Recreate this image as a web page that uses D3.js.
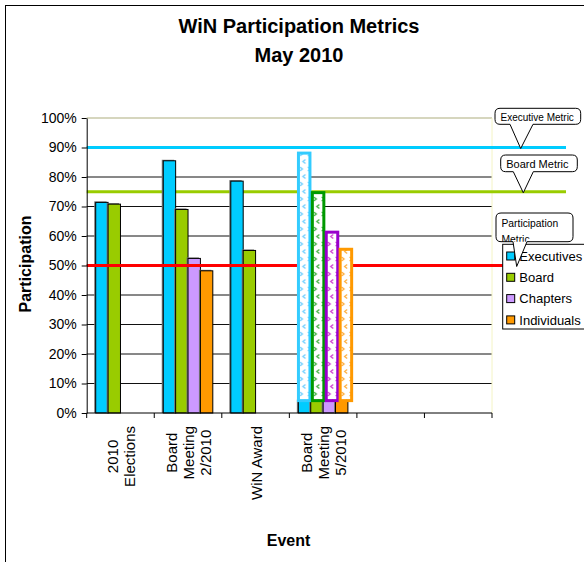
<!DOCTYPE html>
<html>
<head>
<meta charset="utf-8">
<script src="https://cdn.jsdelivr.net/npm/d3@7"></script>
<style>
body { margin: 0; background: #fff; }
svg { display: block; font-family: "Liberation Sans", Arial, sans-serif; }
</style>
</head>
<body>
<svg id="chart" width="584" height="562"></svg>
<script>
// data
const events = [["2010", "Elections"], ["Board", "Meeting", "2/2010"], ["WiN Award"], ["Board", "Meeting", "5/2010"], [], []];
const seriesNames = ["Executives", "Board", "Chapters", "Individuals"];
const executives = [71.4, 85.5, 78.6, 4.2, null, null];
const board = [70.8, 69.0, 55.1, 4.2, null, null];
const chapters = [null, 52.4, null, 4.2, null, null];
const individuals = [null, 48.2, null, 4.2, null, null];
// hatched totals on the last meeting
const plannedEvent = 3;
const planned = [88.1, 74.7, 61.3, 55.5];
const metricNames = [["Executive Metric"], ["Board Metric"], ["Participation", "Metric"]];
const metricValues = [90, 75, 50];
const yTicks = [0, 10, 20, 30, 40, 50, 60, 70, 80, 90, 100];

const values = [executives, board, chapters, individuals];
const fills = ["#00ccff", "#99cc00", "#cc99ff", "#ff9900"];
const hatchStroke = ["#33ccff", "#009900", "#9900cc", "#ff9900"];
const hatchMark = ["#66ccff", "#33aa33", "#cc33cc", "#ffaa33"];
const metricColors = ["#00ccff", "#99cc00", "#ff0000"];

const svg = d3.select("#chart");
const plotL = 86.7, plotR = 492, plotT = 118, plotB = 413;

const x = d3.scaleBand().domain(d3.range(events.length)).range([plotL, plotR]);
const xs = d3.scaleBand().domain(seriesNames).range([9, x.bandwidth() - 9]);
const xp = d3.scaleBand().domain(seriesNames).range([7.6, 63.2]);
const y = d3.scaleLinear().domain([0, 100]).range([plotB, plotT]);

// outer frame
svg.append("rect").attr("x", 5.5).attr("y", 5.5).attr("width", 640).attr("height", 640)
  .attr("fill", "none").attr("stroke", "#000");

// titles
svg.append("text").attr("x", 299).attr("y", 33).attr("text-anchor", "middle")
  .attr("font-size", 20).attr("font-weight", "bold").text("WiN Participation Metrics");
svg.append("text").attr("x", 299).attr("y", 62).attr("text-anchor", "middle")
  .attr("font-size", 20).attr("font-weight", "bold").text("May 2010");

// hatch patterns
const defs = svg.append("defs");
seriesNames.forEach((s, i) => {
  const p = defs.append("pattern").attr("id", "hatch" + i)
    .attr("patternUnits", "userSpaceOnUse").attr("width", 8).attr("height", 15)
    .attr("x", x(plannedEvent) + xp(s) + 1.5).attr("y", 0);
  p.append("rect").attr("width", 8).attr("height", 15).attr("fill", "#fff");
  p.append("path").attr("d", "M1.5,2 L4,4 L1.5,6 M7,9.5 L4.5,11.5 L7,13.5")
    .attr("fill", "none").attr("stroke", hatchMark[i]).attr("stroke-width", 1.2);
});

// grid
svg.append("g").selectAll("line").data(yTicks.slice(1)).join("line")
  .attr("x1", plotL).attr("x2", plotR).attr("y1", d => y(d)).attr("y2", d => y(d))
  .attr("stroke", d => d === 100 ? "#c8c8a8" : "#111").attr("stroke-width", d => d === 100 ? 1.5 : 1);
svg.append("line").attr("x1", plotR).attr("x2", plotR).attr("y1", plotT).attr("y2", plotB)
  .attr("stroke", "#f4f4c4");

const metricLine = i => svg.append("line")
  .attr("x1", plotL).attr("x2", 566).attr("y1", y(metricValues[i])).attr("y2", y(metricValues[i]))
  .attr("stroke", metricColors[i]).attr("stroke-width", 3);
metricLine(1);
metricLine(0);

// solid bars (with a small grey shadow like the original)
seriesNames.forEach((s, i) => {
  const data = values[i].map((v, j) => ({ v, j })).filter(d => d.v != null);
  const g = svg.append("g");
  g.selectAll(".sh").data(data).join("rect")
    .attr("x", d => x(d.j) + xs(s) - 1.5).attr("width", xs.bandwidth())
    .attr("y", d => y(d.v) - 1).attr("height", d => y(0) - y(d.v) + 1)
    .attr("fill", "#777");
  g.selectAll(".bar").data(data).join("rect")
    .attr("x", d => x(d.j) + xs(s)).attr("width", xs.bandwidth())
    .attr("y", d => y(d.v)).attr("height", d => y(0) - y(d.v))
    .attr("fill", fills[i]).attr("stroke", "#000").attr("stroke-width", 1);
});

metricLine(2);

// hatched planned bars
seriesNames.forEach((s, i) => {
  const base = values[i][plannedEvent];
  svg.append("rect")
    .attr("x", x(plannedEvent) + xp(s) + 1.5).attr("width", 11.5)
    .attr("y", y(planned[i])).attr("height", y(base) - y(planned[i]))
    .attr("fill", "url(#hatch" + i + ")").attr("stroke", hatchStroke[i]).attr("stroke-width", 3);
});

// y axis
const yAxis = svg.append("g").attr("transform", `translate(${plotL},0)`)
  .call(d3.axisLeft(y).tickValues(yTicks).tickFormat(d => d + "%").tickSize(5).tickSizeOuter(0).tickPadding(5));
yAxis.selectAll("text").attr("font-size", 14).attr("font-family", "Liberation Sans, Arial, sans-serif").attr("fill", "#000");
yAxis.selectAll("line,path").attr("stroke", "#000");

// x axis
const xAxis = svg.append("g").attr("transform", `translate(0,${plotB})`);
xAxis.append("line").attr("x1", plotL).attr("x2", plotR).attr("stroke", "#000");
xAxis.selectAll(".tk").data(x.domain().map(d => x(d)).concat([plotR])).join("line")
  .attr("x1", d => d).attr("x2", d => d).attr("y1", 0).attr("y2", 5).attr("stroke", "#000");

// category labels, rotated
events.forEach((lines, j) => {
  if (!lines.length) return;
  const g = svg.append("g").attr("transform", `translate(${x(j) + x.bandwidth() / 2 + 1},426) rotate(-90)`);
  const t = g.selectAll("text").data(lines).join("text")
    .attr("font-size", 15).attr("text-anchor", "middle")
    .attr("y", (d, k) => (k - (lines.length - 1) / 2) * 16.8 + 5).text(d => d);
  const w = d3.max(t.nodes(), n => n.getComputedTextLength());
  t.attr("x", -w / 2);
});

// axis titles
svg.append("text").attr("transform", "translate(31,264) rotate(-90)").attr("text-anchor", "middle")
  .attr("font-size", 16).attr("font-weight", "bold").text("Participation");
svg.append("text").attr("x", 288.5).attr("y", 546).attr("text-anchor", "middle")
  .attr("font-size", 16).attr("font-weight", "bold").text("Event");

// legend
const legend = svg.append("g");
legend.append("rect").attr("x", 502.7).attr("y", 244.3).attr("width", 100).attr("height", 84.7)
  .attr("fill", "#fff").attr("stroke", "#000");
seriesNames.forEach((s, i) => {
  const ly = 256 + i * 21.3;
  legend.append("rect").attr("x", 506.7).attr("y", ly - 4).attr("width", 8).attr("height", 8)
    .attr("fill", fills[i]).attr("stroke", "#000");
  legend.append("text").attr("x", 519.3).attr("y", ly + 4.7).attr("font-size", 13).text(s);
});

// callouts
const callouts = [
  { x0: 495, x1: 580.7, y0: 108.3, y1: 124.3, b0: 510, b1: 533, tip: 520.7, fs: 10, dy: 12.8 },
  { x0: 500.7, x1: 577.3, y0: 155, y1: 171.7, b0: 513.3, b1: 533.3, tip: 523.3, fs: 11, dy: 13.3 },
  { x0: 496, x1: 573, y0: 213, y1: 241.7, b0: 513, b1: 527, tip: 516.7, fs: 10.3, dy: 14.3 }
];
callouts.forEach((c, i) => {
  const r = 5, ty = y(metricValues[i]) + 1;
  const d = `M${c.x0 + r},${c.y0} H${c.x1 - r} Q${c.x1},${c.y0} ${c.x1},${c.y0 + r} V${c.y1 - r} Q${c.x1},${c.y1} ${c.x1 - r},${c.y1}
    H${c.b1} L${c.tip},${ty} L${c.b0},${c.y1} H${c.x0 + r} Q${c.x0},${c.y1} ${c.x0},${c.y1 - r} V${c.y0 + r} Q${c.x0},${c.y0} ${c.x0 + r},${c.y0} Z`;
  svg.append("path").attr("d", d).attr("fill", "#fff").attr("stroke", "#000").attr("stroke-width", 1);
  defs.append("clipPath").attr("id", "clip" + i).append("rect")
    .attr("x", c.x0).attr("y", c.y0).attr("width", c.x1 - c.x0).attr("height", c.y1 - c.y0);
  svg.append("g").attr("clip-path", `url(#clip${i})`).selectAll("text").data(metricNames[i]).join("text")
    .attr("x", c.x0 + 5.5).attr("y", (dd, k) => c.y0 + c.dy + k * 15.5)
    .attr("font-size", c.fs).text(dd => dd);
});
</script>
</body>
</html>
